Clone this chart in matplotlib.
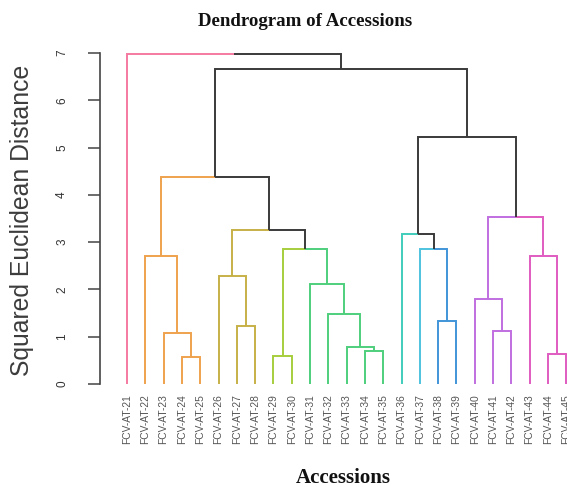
import matplotlib
matplotlib.use("Agg")
import matplotlib.pyplot as plt
import numpy as np

# ---- data ----
labels = [f"FCV-AT-{i}" for i in range(21, 46)]
# R-style merge matrix: negative = leaf (1-based), positive = earlier merge row (1-based)
merge_a = [-4, -9, -24, -14, -13, -3, -21, -7, -18, -12, -20, -11, -6, -23, -2, -17, 2, -16, 13, 11, 15, 18, 21, -1]
merge_b = [-5, -10, -25, -15, 4, 1, -22, -8, -19, 5, 7, 10, 8, 3, 6, 9, 12, 16, 17, 14, 19, 20, 22, 23]
heights = [0.57, 0.59, 0.64, 0.70, 0.78, 1.08, 1.12, 1.22, 1.34, 1.48, 1.80, 2.11, 2.29, 2.71,
           2.71, 2.85, 2.85, 3.17, 3.26, 3.53, 4.38, 5.22, 6.66, 6.98]
leaf_cluster = [0, 1, 1, 1, 1, 2, 2, 2, 3, 3, 4, 4, 4, 4, 4, 5, 6, 7, 7, 8, 8, 8, 9, 9, 9]
cluster_colors = ["#F57AA2", "#EFA24E", "#C6B046", "#A6CE3C", "#4ECF7C",
                  "#3FCDBA", "#4EC3E0", "#4095D8", "#C06EE0", "#E05CC0"]
yticks = [0, 1, 2, 3, 4, 5, 6, 7]

W, H = 567, 487
fig = plt.figure(figsize=(W / 100, H / 100), dpi=100)
fig.patch.set_facecolor("white")

# axes geometry (pixels)
ax_left, ax_right = 100, 567
y0_px, y7_px = 384, 53
ppu = (y0_px - y7_px) / 7.0
ylo, yhi = -0.28, 7.28
ax_bottom_px = y0_px - ylo * ppu
ax_top_px = y0_px - yhi * ppu
ax = fig.add_axes([ax_left / W, 1 - ax_bottom_px / H, (ax_right - ax_left) / W,
                   (ax_bottom_px - ax_top_px) / H])
spacing = 18.3
x_at_left = 1 - (127 - ax_left) / spacing
ax.set_xlim(x_at_left, x_at_left + (ax_right - ax_left) / spacing)
ax.set_ylim(ylo, yhi)

n = len(labels)
node_x = {}
node_h = {}
node_set = {}


def child_info(c):
    if c < 0:
        k = -c
        return float(k), 0.0, {leaf_cluster[k - 1]}
    return node_x[c], node_h[c], node_set[c]


lw = 1.4
dark = "#3a3a3a"
for i, (a, b, h) in enumerate(zip(merge_a, merge_b, heights), start=1):
    xa, ha, sa = child_info(a)
    xb, hb, sb = child_info(b)
    xm = (xa + xb) / 2
    node_x[i] = xm
    node_h[i] = h
    node_set[i] = sa | sb
    for xc, hc, sc in ((xa, ha, sa), (xb, hb, sb)):
        col = cluster_colors[next(iter(sc))] if len(sc) == 1 else dark
        ax.plot([xm, xc, xc], [h, h, hc], color=col, lw=lw, solid_capstyle="butt",
                solid_joinstyle="miter")

for s in ["top", "right", "bottom"]:
    ax.spines[s].set_visible(False)
ax.spines["left"].set_bounds(0, 7)
ax.spines["left"].set_color("#444444")
ax.spines["left"].set_linewidth(1.2)

ax.set_yticks(yticks)
ax.set_yticklabels([str(t) for t in yticks], rotation=90, va="center",
                   fontsize=8.5, color="#333333", fontfamily="Liberation Sans")
ax.tick_params(axis="y", length=9, width=1.1, color="#444444", pad=14)

ax.set_xticks(np.arange(1, n + 1))
ax.set_xticklabels(labels, rotation=90, fontsize=7.4, color="#555555",
                   fontfamily="Liberation Sans")
ax.tick_params(axis="x", length=0, pad=-2.3)

fig.text(22 / W, 1 - 220 / H, "Squared Euclidean Distance", rotation=90,
         ha="center", va="center", fontsize=17.8, color="#3c3c3c",
         fontfamily="Liberation Sans")
fig.text(305 / W, 1 - 21 / H, "Dendrogram of Accessions", ha="center", va="center",
         fontsize=13.6, fontweight="bold", fontfamily="Liberation Serif", color="#111111")
fig.text(343 / W, 1 - 478 / H, "Accessions", ha="center", va="center",
         fontsize=15, fontweight="bold", fontfamily="Liberation Serif", color="#111111")

fig.savefig("out.png", dpi=100, facecolor="white")
